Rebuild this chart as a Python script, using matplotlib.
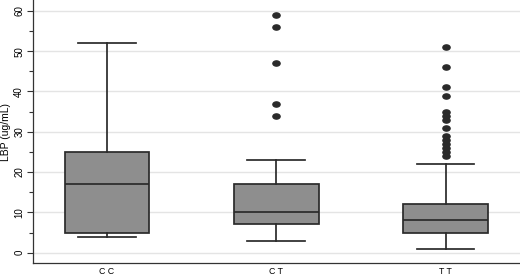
import matplotlib
matplotlib.use("Agg")
import matplotlib.pyplot as plt
from matplotlib.ticker import MultipleLocator
from matplotlib.path import Path
from matplotlib.transforms import Affine2D

plt.rcParams["font.family"] = ["Liberation Sans", "DejaVu Sans"]

categories = ["C C", "C T", "T T"]
whislo = [4, 3, 1]
q1 = [5, 7, 5]
med = [17, 10, 8]
q3 = [25, 17, 12]
whishi = [52, 23, 22]
outliers_cc = []
outliers_ct = [34, 37, 47, 56, 59]
outliers_tt = [24, 25, 26, 27, 28, 29, 31, 33, 34, 35, 39, 41, 46, 51]
outliers = [outliers_cc, outliers_ct, outliers_tt]

stats = []
for i, c in enumerate(categories):
    stats.append(dict(label=c, whislo=whislo[i], q1=q1[i], med=med[i],
                      q3=q3[i], whishi=whishi[i], fliers=outliers[i]))

ellipse = Path.unit_circle().transformed(Affine2D().scale(1.0, 0.72))

fig = plt.figure(figsize=(5.2, 2.77), dpi=100)
ax = fig.add_axes([0.0635, 0.0505, 0.9365, 0.9495])

dark = "#2a2a2a"
lw = 1.25
ax.bxp(stats, positions=[1, 2, 3], widths=0.5, patch_artist=True,
       boxprops=dict(facecolor="#8e8e8e", edgecolor=dark, linewidth=lw),
       medianprops=dict(color=dark, linewidth=lw),
       whiskerprops=dict(color=dark, linewidth=lw),
       capprops=dict(color=dark, linewidth=lw),
       capwidths=0.34,
       flierprops=dict(marker=ellipse, markerfacecolor=dark,
                       markeredgecolor=dark, markersize=5.2))

ax.set_xlim(0.563, 3.44)
ax.set_ylim(-2.56, 62.7)
ax.yaxis.set_major_locator(MultipleLocator(10))
ax.yaxis.set_minor_locator(MultipleLocator(5))
ax.grid(axis="y", which="major", color="#e4e4e4", linewidth=1.0)
ax.set_axisbelow(True)
for s in ["top", "right"]:
    ax.spines[s].set_visible(False)
for s in ["left", "bottom"]:
    ax.spines[s].set_color("#333333")
    ax.spines[s].set_linewidth(0.9)
ax.tick_params(axis="y", which="major", length=4.3, width=0.8, color="#333333",
               labelsize=7, pad=2)
ax.tick_params(axis="y", which="minor", length=3, width=0.8, color="#333333")
for lab in ax.get_yticklabels():
    lab.set_rotation(90)
    lab.set_va("center")
ax.tick_params(axis="x", length=0, labelsize=6.3, pad=3)
ax.set_xticks([1, 2, 3])
ax.set_xticklabels(categories)
ax.set_ylabel("LBP (ug/mL)", fontsize=7.5, labelpad=2)

fig.savefig("out.png", dpi=100)
